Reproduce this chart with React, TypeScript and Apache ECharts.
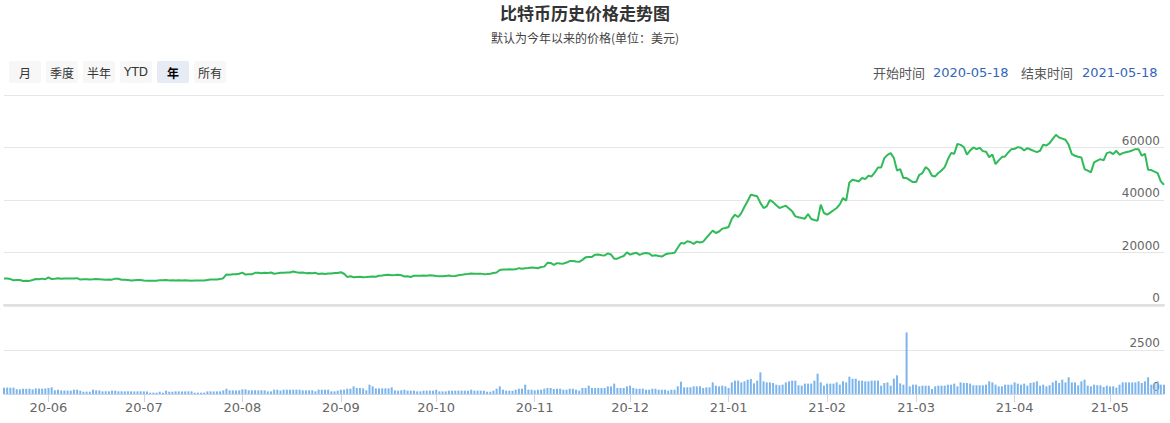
import React, { useEffect, useRef } from "react";
import * as echarts from "echarts";

const START_DATE = "2020-05-18";
const END_DATE = "2021-05-18";
const TITLE = "比特币历史价格走势图";
const SUBTITLE = "默认为今年以来的价格(单位：美元)";
const RANGE_BUTTONS = ["月", "季度", "半年", "YTD", "年", "所有"];
const SELECTED_BUTTON = "年";

// daily price (USD)
const price2020May = [10050, 10080, 9870, 9430, 9530, 9520, 9140, 9250, 9190, 9550, 9930, 9780, 10050, 9810];
const price2020Jun = [10550, 9870, 10000, 10150, 10000, 10110, 10140, 10130, 10120, 10230, 9670, 9830, 9820, 9740, 9780, 9870, 9810, 9740, 9660, 9710, 9660, 10040, 9980, 9650, 9600, 9510, 9360, 9470, 9540, 9490];
const price2020Jul = [9350, 9230, 9210, 9270, 9210, 9470, 9390, 9560, 9380, 9420, 9380, 9430, 9380, 9390, 9340, 9280, 9300, 9310, 9350, 9300, 9530, 9690, 9760, 9700, 9870, 10200, 11650, 11550, 11700, 11690, 11900];
const price2020Aug = [12350, 11600, 11750, 11700, 12250, 12270, 12100, 12250, 12180, 12380, 11920, 12080, 12280, 12270, 12370, 12410, 12750, 12490, 12250, 12370, 12140, 12170, 12140, 12250, 11830, 11960, 11810, 12020, 11970, 12200, 12170];
const price2020Sep = [12480, 11900, 10700, 10950, 10600, 10700, 10800, 10560, 10670, 10800, 10880, 10760, 11120, 11230, 11400, 11510, 11370, 11390, 11540, 11370, 10850, 10980, 10660, 11180, 11130, 11170, 11210, 11150, 11290, 11220];
const price2020Oct = [11030, 10980, 10960, 11080, 11200, 11000, 11080, 11340, 11480, 11740, 11820, 12000, 11870, 11870, 11950, 11760, 11800, 11920, 12190, 12380, 13320, 13480, 13540, 13580, 13540, 13580, 14050, 13780, 13970, 14080, 14320];
const price2020Nov = [14200, 14000, 14480, 14620, 16050, 16030, 15300, 15950, 15800, 15760, 16170, 16750, 16800, 16540, 16430, 17200, 18150, 18300, 18320, 19180, 19210, 18920, 18870, 19660, 19230, 17650, 17640, 18220, 18680, 20050];
const price2020Dec = [19200, 19620, 19880, 19120, 19580, 19800, 19600, 18730, 18970, 18660, 18440, 19220, 19600, 19700, 19880, 21800, 23640, 23400, 24270, 24000, 23300, 24150, 23800, 24150, 25540, 27000, 28320, 27430, 28000, 29090, 29350];
const price2021Jan = [29730, 32800, 34400, 33500, 35000, 37400, 39600, 42000, 41700, 41400, 38900, 36950, 37600, 40000, 39200, 38000, 36950, 37400, 37840, 36800, 35680, 33770, 33400, 33130, 32890, 34670, 32760, 32400, 32130, 38210, 35050];
const price2021Feb = [34420, 35200, 36100, 36950, 38340, 40760, 39750, 46700, 47720, 47400, 47080, 48360, 47960, 49230, 48980, 50500, 52400, 52400, 55970, 57200, 57870, 55970, 51250, 51760, 48360, 48360, 47600, 46840];
const price2021Mar = [46840, 49610, 50250, 52530, 51510, 49230, 48980, 50300, 51250, 52530, 55500, 57870, 57600, 61400, 61000, 60200, 57240, 58880, 60010, 59370, 59880, 58620, 58360, 56330, 57340, 53680, 55080, 56350, 56600, 58110, 59370];
const price2021Apr = [59500, 60140, 59880, 58870, 59760, 59250, 58700, 58240, 58750, 61020, 60770, 61650, 63300, 64830, 63820, 63400, 62940, 61020, 57490, 56860, 56500, 56220, 51780, 51150, 50510, 54320, 55000, 55590, 55080, 57870];
const price2021May = [58240, 57490, 58750, 57240, 57870, 58200, 58500, 58880, 59370, 59370, 56860, 57620, 51510, 51400, 50800, 50250, 47080, 45800];

// daily volume
const vol2020May = [360, 365, 355, 360, 270, 265, 300, 295, 300, 265, 320, 310, 305, 315];
const vol2020Jun = [340, 380, 210, 245, 205, 200, 195, 190, 245, 245, 190, 130, 135, 130, 245, 210, 205, 150, 155, 150, 190, 190, 150, 155, 150, 150, 150, 145, 150, 150];
const vol2020Jul = [150, 145, 75, 80, 75, 130, 75, 190, 130, 130, 150, 150, 145, 150, 150, 150, 75, 80, 75, 80, 150, 150, 145, 150, 150, 210, 300, 210, 210, 205, 210];
const vol2020Aug = [265, 265, 210, 210, 210, 205, 210, 210, 150, 150, 245, 245, 190, 245, 245, 240, 245, 245, 245, 210, 210, 210, 210, 150, 245, 245, 240, 245, 150, 150, 190];
const vol2020Sep = [245, 245, 300, 300, 435, 340, 340, 320, 210, 530, 435, 320, 320, 320, 320, 320, 380, 210, 190, 210, 245, 190, 190, 190, 150, 150, 190, 190, 190, 190];
const vol2020Oct = [245, 150, 150, 150, 190, 190, 190, 190, 190, 190, 190, 245, 190, 190, 190, 190, 130, 130, 190, 300, 435, 245, 190, 190, 190, 245, 300, 300, 530, 245, 245];
const vol2020Nov = [210, 245, 245, 300, 340, 340, 285, 300, 300, 245, 245, 300, 300, 245, 190, 340, 340, 475, 340, 340, 340, 340, 340, 435, 435, 590, 340, 340, 340, 435];
const vol2020Dec = [475, 340, 300, 300, 300, 245, 245, 300, 300, 245, 245, 245, 190, 245, 245, 435, 700, 380, 380, 380, 435, 435, 435, 340, 380, 380, 660, 475, 435, 475, 435];
const vol2021Jan = [340, 660, 760, 760, 660, 720, 815, 850, 605, 760, 1230, 720, 660, 660, 625, 530, 495, 530, 660, 720, 760, 760, 495, 475, 590, 590, 590, 760, 1155, 660, 475];
const vol2021Feb = [590, 590, 590, 660, 530, 720, 660, 985, 870, 870, 760, 760, 720, 720, 760, 760, 760, 475, 625, 660, 475, 870, 1060, 605, 530, 3500, 435, 530];
const vol2021Mar = [530, 435, 475, 475, 475, 285, 435, 475, 475, 475, 530, 530, 590, 435, 660, 625, 625, 590, 495, 495, 495, 495, 530, 720, 660, 530, 435, 435, 530, 530, 530];
const vol2021Apr = [660, 590, 530, 590, 475, 625, 660, 720, 475, 530, 435, 495, 660, 760, 625, 815, 660, 950, 660, 660, 495, 720, 815, 475, 435, 530, 495, 495, 400, 475];
const vol2021May = [435, 435, 360, 530, 660, 660, 660, 660, 660, 720, 625, 720, 950, 530, 625, 720, 530, 530];

const priceTicks = { min: 0, max: 80000, interval: 20000 };
const volumeTicks = { min: 0, max: 5000, interval: 2500 };

const prices = [
  ...price2020May, ...price2020Jun, ...price2020Jul, ...price2020Aug, ...price2020Sep, ...price2020Oct,
  ...price2020Nov, ...price2020Dec, ...price2021Jan, ...price2021Feb, ...price2021Mar, ...price2021Apr, ...price2021May,
];
const volumes = [
  ...vol2020May, ...vol2020Jun, ...vol2020Jul, ...vol2020Aug, ...vol2020Sep, ...vol2020Oct,
  ...vol2020Nov, ...vol2020Dec, ...vol2021Jan, ...vol2021Feb, ...vol2021Mar, ...vol2021Apr, ...vol2021May,
];

function buildDates(start: string, count: number): string[] {
  const out: string[] = [];
  const t0 = Date.parse(start + "T00:00:00Z");
  for (let i = 0; i < count; i++) {
    out.push(new Date(t0 + i * 86400000).toISOString().slice(0, 10));
  }
  return out;
}

const dates = buildDates(START_DATE, prices.length);

const isMonthStart = (_i: number, v: string) => v.slice(8, 10) === "01";

export default function App() {
  const ref = useRef<HTMLDivElement>(null);

  useEffect(() => {
    if (!ref.current) return;
    const chart = echarts.init(ref.current, undefined, { renderer: "svg" });
    const font = "'Noto Sans CJK SC', 'Noto Sans', sans-serif";
    const numFont = "'DejaVu Sans', Verdana, sans-serif";

    const graphics: any[] = [
      {
        type: "text",
        left: "center",
        top: 4,
        style: { text: TITLE, font: `bold 17px ${font}`, fill: "#333" },
      },
      {
        type: "text",
        left: "center",
        top: 31,
        style: { text: SUBTITLE, font: `12px ${font}`, fill: "#444" },
      },
    ];
    RANGE_BUTTONS.forEach((b, i) => {
      const x = 9 + i * 37;
      const sel = b === SELECTED_BUTTON;
      graphics.push({
        type: "rect",
        shape: { x, y: 61, width: 32, height: 22, r: 2 },
        style: { fill: sel ? "#e6ebf5" : "#f7f7f7" },
      });
      graphics.push({
        type: "text",
        x: x + 16,
        y: 72,
        style: {
          text: b,
          font: `${sel ? "bold " : ""}12px ${b === "YTD" ? numFont : font}`,
          fill: sel ? "#000" : "#333",
          align: "center",
          verticalAlign: "middle",
        },
      });
    });
    const rightTexts = [
      { t: "开始时间", x: 873, c: "#555", f: `13px ${font}` },
      { t: START_DATE, x: 933, c: "#3366bb", f: `13px ${numFont}` },
      { t: "结束时间", x: 1021, c: "#555", f: `13px ${font}` },
      { t: END_DATE, x: 1082, c: "#3366bb", f: `13px ${numFont}` },
    ];
    rightTexts.forEach((r) => {
      graphics.push({
        type: "text",
        x: r.x,
        y: 72,
        style: { text: r.t, font: r.f, fill: r.c, verticalAlign: "middle" },
      });
    });

    const labelStyle = {
      inside: true,
      align: "right",
      verticalAlign: "bottom",
      margin: 4,
      color: "#666",
      fontSize: 12,
      fontFamily: numFont,
      showMaxLabel: false,
      padding: [0, 0, 1, 0],
      formatter: (v: number) => String(v),
    };

    chart.setOption({
      animation: false,
      graphic: graphics,
      grid: [
        { left: 4, right: 6, top: 95, height: 210 },
        { left: 4, right: 6, top: 306, height: 88 },
      ],
      xAxis: [
        {
          type: "category",
          gridIndex: 0,
          data: dates,
          boundaryGap: false,
          axisLine: { show: true, lineStyle: { color: "#e0e0e0", width: 2 } },
          axisTick: { show: false },
          axisLabel: { show: false },
          splitLine: { show: false },
        },
        {
          type: "category",
          gridIndex: 1,
          data: dates,
          boundaryGap: false,
          axisLine: { show: true, lineStyle: { color: "#ccd6eb", width: 1 } },
          axisTick: { show: true, interval: isMonthStart, length: 8, lineStyle: { color: "#ccd6eb" } },
          axisLabel: {
            interval: isMonthStart,
            formatter: (v: string) => v.slice(2, 7),
            color: "#666",
            fontSize: 13,
            fontFamily: numFont,
            margin: 7,
          },
          splitLine: { show: false },
        },
      ],
      yAxis: [
        {
          type: "value",
          gridIndex: 0,
          position: "right",
          ...priceTicks,
          axisLine: { show: false },
          axisTick: { show: false },
          axisLabel: labelStyle,
          splitLine: { show: true, lineStyle: { color: "#e6e6e6" } },
        },
        {
          type: "value",
          gridIndex: 1,
          position: "right",
          ...volumeTicks,
          axisLine: { show: false },
          axisTick: { show: false },
          axisLabel: labelStyle,
          splitLine: { show: true, lineStyle: { color: "#e6e6e6" } },
        },
      ],
      series: [
        {
          type: "line",
          xAxisIndex: 0,
          yAxisIndex: 0,
          data: prices,
          showSymbol: false,
          symbol: "none",
          lineStyle: { color: "#2fbb58", width: 2 },
          itemStyle: { color: "#2fbb58" },
        },
        {
          type: "bar",
          xAxisIndex: 1,
          yAxisIndex: 1,
          data: volumes,
          barWidth: 2,
          itemStyle: { color: "#7cb5ec" },
        },
      ],
    });

    return () => chart.dispose();
  }, []);

  return (
    <div
      ref={ref}
      style={{ position: "fixed", left: 0, top: 0, width: 1170, height: 423, background: "#fff" }}
    />
  );
}
